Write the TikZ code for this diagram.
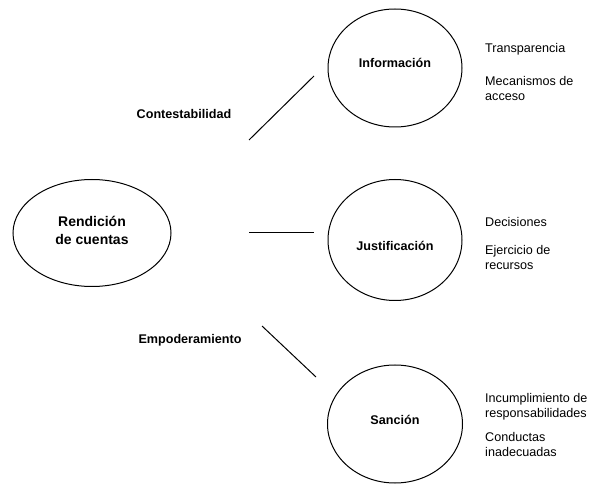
\documentclass[tikz,border=0pt]{standalone}
\usepackage{fontspec}
\setmainfont{Liberation Sans}
\usetikzlibrary{shapes.geometric}

\begin{document}
\begin{tikzpicture}[x=1pt,y=-1pt,
    bubble/.style={ellipse, draw, line width=1pt, inner sep=0pt},
    bold/.style={font=\fontsize{12.6}{15}\selectfont\bfseries, align=center, inner sep=0pt},
    item/.style={font=\fontsize{12.6}{15}\selectfont, align=left, anchor=west, inner sep=0pt}]
    \useasboundingbox (0,0) rectangle (590,484);
    \node[bubble, minimum width=158pt, minimum height=107pt] (rend) at (92,233) {};
    \node[bubble, minimum width=134pt, minimum height=118pt] (info) at (395,68) {};
    \node[bubble, minimum width=134pt, minimum height=121pt] (just) at (395,240) {};
    \node[bubble, minimum width=135pt, minimum height=118pt] (sanc) at (395,424) {};
    \node[bold, font=\fontsize{14}{18}\selectfont\bfseries] (rendtxt) at (92,230) {Rendici\'on\\de cuentas};
    \node[bold] (infotxt) at (395,63) {Informaci\'on};
    \node[bold] (justtxt) at (395,246) {Justificaci\'on};
    \node[bold] (sanctxt) at (395,420) {Sanci\'on};
    \node[bold] (contest) at (184,114) {Contestabilidad};
    \node[bold] (empod) at (190,340) {Empoderamiento};
    % free-standing connectors
    \coordinate (c1) at (249,140);
    \coordinate (c2) at (314,76);
    \coordinate (j1) at (249,233);
    \coordinate (j2) at (314,233);
    \coordinate (s1) at (262,326);
    \coordinate (s2) at (316,377);
    \draw[line width=1pt] (c1) -- (c2);
    \draw[line width=1pt] (j1) -- (j2);
    \draw[line width=1pt] (s1) -- (s2);
    % side items
    \node[item] (i1) at (485,49) {Transparencia};
    \node[item] (i2) at (485,88.5) {Mecanismos de\\acceso};
    \node[item] (j3) at (485,222) {Decisiones};
    \node[item] (j4) at (485,257.5) {Ejercicio de\\recursos};
    \node[item] (s3) at (485,406.5) {Incumplimiento de\\responsabilidades};
    \node[item] (s4) at (485,444.5) {Conductas\\inadecuadas};
\end{tikzpicture}
\end{document}
